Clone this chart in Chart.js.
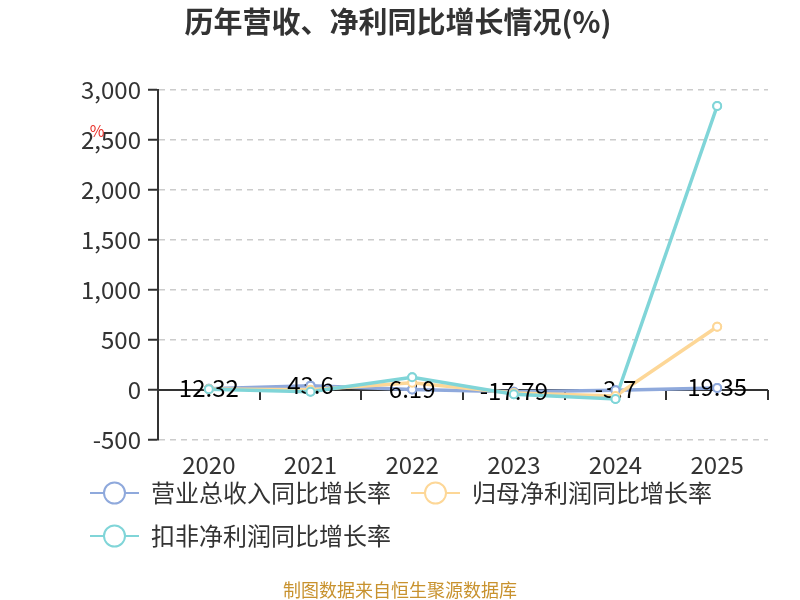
<!DOCTYPE html>
<html><head><meta charset="utf-8">
<script src="https://cdn.jsdelivr.net/npm/chart.js@4.4.1/dist/chart.umd.min.js"></script>
<style>html,body{margin:0;padding:0;background:#fff}canvas{display:block}</style>
</head><body>
<canvas id="c" width="800" height="600"></canvas>
<script>
// data
const years=['2020','2021','2022','2023','2024','2025'];
const revenueGrowth=[12.32,43.6,6.19,-17.79,-3.7,19.35];
const netProfitGrowth=[10,2,72,-30,-60,633];
const deductedGrowth=[8,-17,127,-43,-90,2840];
const seriesNames=['营业总收入同比增长率','归母净利润同比增长率','扣非净利润同比增长率'];
const yTicks={min:-500,max:3000,step:500};

const colors=['#8fa9dc','#fdd797','#80d5d8'];
const FONT='"Noto Sans CJK SC", "Noto Sans", sans-serif';
const TXT='#333';

function mkSet(i,data,order){
  return {label:seriesNames[i],data,order,borderColor:colors[i],borderWidth:3.5,tension:0,
    pointRadius:4,pointBorderWidth:2,pointBackgroundColor:'#fff',pointBorderColor:colors[i]};
}

const extras={
  id:'extras',
  beforeDraw(chart){
    const ctx=chart.ctx;ctx.save();ctx.fillStyle='#fff';ctx.fillRect(0,0,chart.width,chart.height);ctx.restore();
  },
  beforeDatasetsDraw(chart){
    // x axis line sits on zero
    const ctx=chart.ctx,a=chart.chartArea,y0=chart.scales.y.getPixelForValue(0);
    const w=(a.right-a.left)/years.length;
    ctx.save();ctx.strokeStyle=TXT;ctx.lineWidth=2;
    ctx.beginPath();ctx.moveTo(a.left,y0);ctx.lineTo(a.right,y0);
    for(let i=1;i<=years.length;i++){const x=Math.round(a.left+i*w);ctx.moveTo(x,y0);ctx.lineTo(x,y0+10);}
    ctx.stroke();ctx.restore();
  },
  afterDatasetsDraw(chart){
    const ctx=chart.ctx;
    ctx.save();ctx.font='24px '+FONT;ctx.fillStyle='#000';ctx.textAlign='center';ctx.textBaseline='middle';
    chart.getDatasetMeta(0).data.forEach((p,i)=>ctx.fillText(String(revenueGrowth[i]),p.x,p.y-1));
    ctx.restore();
    [0,1,2].forEach(i=>chart.getDatasetMeta(i).data.forEach(p=>p.draw(ctx,chart.chartArea)));
  },
  afterDraw(chart){
    const ctx=chart.ctx;ctx.save();
    ctx.fillStyle=TXT;ctx.textAlign='center';ctx.textBaseline='middle';
    ctx.font='bold 29px '+FONT;ctx.fillText('历年营收、净利同比增长情况(%)',398,22);
    // legend
    const items=[[90,493],[411,493],[90,536]];
    ctx.font='24px '+FONT;ctx.textAlign='left';
    items.forEach(([x,y],i)=>{
      ctx.strokeStyle=colors[i];ctx.lineWidth=2;
      ctx.beginPath();ctx.moveTo(x,y);ctx.lineTo(x+49,y);ctx.stroke();
      ctx.beginPath();ctx.arc(x+24.5,y,10.5,0,Math.PI*2);ctx.fillStyle='#fff';ctx.fill();ctx.stroke();
      ctx.fillStyle=TXT;ctx.fillText(seriesNames[i],x+61,y);
    });
    ctx.textAlign='center';ctx.font='18px '+FONT;ctx.fillStyle='#c8922e';
    ctx.fillText('制图数据来自恒生聚源数据库',400,590);
    ctx.font='16px '+FONT;ctx.fillStyle='#e8312a';ctx.fillText('%',97,131);
    ctx.restore();
  }
};

new Chart(document.getElementById('c'),{
  type:'line',
  data:{labels:years,datasets:[mkSet(0,revenueGrowth,3),mkSet(1,netProfitGrowth,2),mkSet(2,deductedGrowth,1)]},
  options:{
    responsive:false,animation:false,devicePixelRatio:1,events:[],
    layout:{padding:{left:0,top:90,right:32,bottom:120}},
    plugins:{legend:{display:false},tooltip:{enabled:false},title:{display:false}},
    scales:{
      x:{offset:true,grid:{display:false,drawTicks:false},border:{display:false},
        ticks:{font:{size:24,family:FONT},color:TXT,padding:10},
        afterFit(s){s.height=40;}},
      y:{min:yTicks.min,max:yTicks.max,
        ticks:{stepSize:yTicks.step,font:{size:24,family:FONT},color:TXT,padding:7},
        grid:{color:'#ccc',lineWidth:1.5,tickColor:TXT,tickLength:10,tickWidth:2},
        border:{color:TXT,width:2,dash:[6,5]},
        afterFit(s){s.width=158;}}
    }
  },
  plugins:[extras]
});
</script>
</body></html>
